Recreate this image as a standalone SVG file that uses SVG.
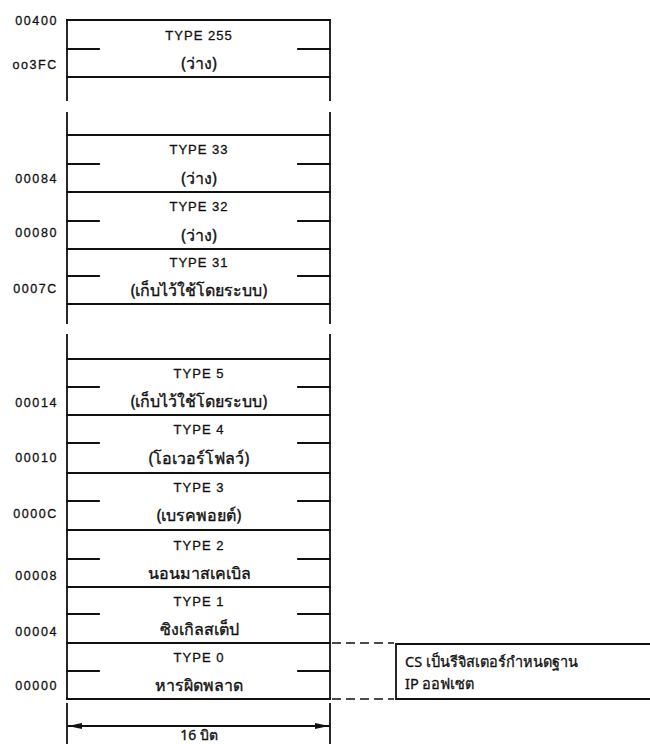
<svg xmlns="http://www.w3.org/2000/svg" width="650" height="744" viewBox="0 0 650 744">
<defs>
<style>
.ln{stroke:#111;stroke-width:1.8;fill:none;stroke-linecap:square}
.dash{stroke:#111;stroke-width:1.5;fill:none;stroke-dasharray:9,5}
.ty{font-family:"Liberation Sans",Arial,sans-serif;font-size:13px;letter-spacing:1px;fill:#111;stroke:#111;stroke-width:0.3;text-anchor:middle;dominant-baseline:central}
.th{font-family:"Noto Sans","DejaVu Sans",sans-serif;font-size:16px;fill:#111;stroke:#111;stroke-width:0.35;text-anchor:middle;dominant-baseline:central}
.ad{font-family:"Liberation Sans",Arial,sans-serif;font-size:12.5px;letter-spacing:1.6px;fill:#111;stroke:#111;stroke-width:0.3;text-anchor:end;dominant-baseline:central}
.nt{font-family:"Noto Sans","DejaVu Sans",sans-serif;font-size:14.5px;fill:#111;stroke:#111;stroke-width:0.3}
</style>
<marker id="ah" viewBox="0 0 14 6" refX="14" refY="3" markerWidth="14" markerHeight="6" markerUnits="userSpaceOnUse" orient="auto-start-reverse">
<path d="M0,0 L14,3 L0,6 Z" fill="#111"/>
</marker>
</defs>
<rect width="650" height="744" fill="#fff"/>

<g id="frame">
<path class="ln" d="M67,20 V100 M330,20 V100 M67,113 V323 M330,113 V323 M67,335 V699 M330,335 V699 M67,704 V744 M330,704 V744"/>
<path class="ln" d="M67,20 H330"/>
</g>

<g id="type255">
<path class="ln" d="M67,77 H330 M67,49 H99 M298,49 H330"/>
<text class="ad" x="58" y="21">00400</text>
<text class="ad" x="58" y="65">oo3FC</text>
<text class="ty" x="199" y="35">TYPE 255</text>
<text class="th" x="199" y="63">(ว่าง)</text>
</g>

<g id="type33">
<path class="ln" d="M67,135 H330 M67,192 H330 M67,164 H99 M298,164 H330"/>
<text class="ad" x="58" y="179">00084</text>
<text class="ty" x="199" y="149">TYPE 33</text>
<text class="th" x="199" y="178">(ว่าง)</text>
</g>

<g id="type32">
<path class="ln" d="M67,249 H330 M67,221 H99 M298,221 H330"/>
<text class="ad" x="58" y="233">00080</text>
<text class="ty" x="199" y="206">TYPE 32</text>
<text class="th" x="199" y="235">(ว่าง)</text>
</g>

<g id="type31">
<path class="ln" d="M67,304 H330 M67,276 H99 M298,276 H330"/>
<text class="ad" x="58" y="289">0007C</text>
<text class="ty" x="199" y="262">TYPE 31</text>
<text class="th" x="199" y="290">(เก็บไว้ใช้โดยระบบ)</text>
</g>

<g id="type5">
<path class="ln" d="M67,359 H330 M67,415 H330 M67,387 H99 M298,387 H330"/>
<text class="ad" x="58" y="403">00014</text>
<text class="ty" x="199" y="373">TYPE 5</text>
<text class="th" x="199" y="401">(เก็บไว้ใช้โดยระบบ)</text>
</g>

<g id="type4">
<path class="ln" d="M67,473 H330 M67,443 H99 M298,443 H330"/>
<text class="ad" x="58" y="458">00010</text>
<text class="ty" x="199" y="429">TYPE 4</text>
<text class="th" x="199" y="458">(โอเวอร์โฟลว์)</text>
</g>

<g id="type3">
<path class="ln" d="M67,530 H330 M67,501 H99 M298,501 H330"/>
<text class="ad" x="58" y="514">0000C</text>
<text class="ty" x="199" y="487">TYPE 3</text>
<text class="th" x="199" y="515">(เบรคพอยต์)</text>
</g>

<g id="type2">
<path class="ln" d="M67,587 H330 M67,559 H99 M298,559 H330"/>
<text class="ad" x="58" y="576">00008</text>
<text class="ty" x="199" y="545">TYPE 2</text>
<text class="th" x="199" y="573">นอนมาสเคเบิล</text>
</g>

<g id="type1">
<path class="ln" d="M67,643 H330 M67,614 H99 M298,614 H330"/>
<text class="ad" x="58" y="632">00004</text>
<text class="ty" x="199" y="601">TYPE 1</text>
<text class="th" x="199" y="629">ซิงเกิลสเต็ป</text>
</g>

<g id="type0">
<path class="ln" d="M67,699 H330 M67,671 H99 M298,671 H330"/>
<text class="ad" x="58" y="686">00000</text>
<text class="ty" x="199" y="657">TYPE 0</text>
<text class="th" x="199" y="685">หารผิดพลาด</text>
</g>

<g id="note">
<path class="ln" d="M652,644 H396 V699 H652"/>
<text class="nt" x="405" y="667">CS เป็นรีจิสเตอร์กำหนดฐาน</text>
<text class="nt" x="405" y="689">IP ออฟเซต</text>
</g>

<g id="connectors">
<path class="dash" d="M332,643 H394 M332,699 H394"/>
<path class="ln" d="M68,726 H329" marker-start="url(#ah)" marker-end="url(#ah)"/>
<text class="th" x="199" y="734" style="font-size:14px">16 บิต</text>
</g>
</svg>
